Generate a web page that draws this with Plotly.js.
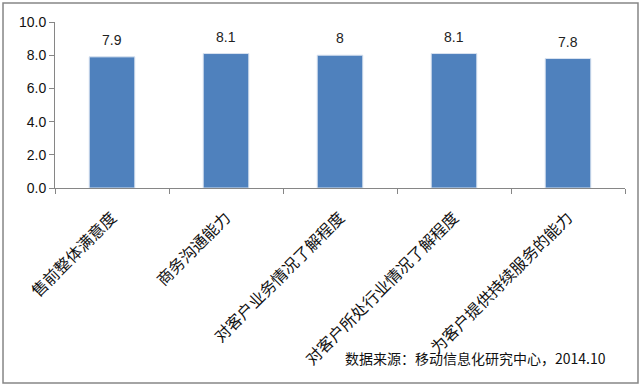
<!DOCTYPE html>
<html><head><meta charset="utf-8">
<script src="https://cdn.plot.ly/plotly-3.0.1.min.js"></script>
<style>html,body{margin:0;padding:0;background:#fff}#c{width:643px;height:386px}</style>
</head><body><div id="c"></div>
<script>
const categories = ["售前整体满意度","商务沟通能力","对客户业务情况了解程度","对客户所处行业情况了解程度","为客户提供持续服务的能力"];
const values = [7.9, 8.1, 8, 8.1, 7.8];
const valueLabels = ["7.9","8.1","8","8.1","7.8"];
const yTicks = [0, 2, 4, 6, 8, 10];
const sourceText = "数据来源：移动信息化研究中心，2014.10";

const trace = {
  type: "bar", x: categories, y: values,
  marker: {color: "#4F81BD", line: {color: "#D9E3F0", width: 1}},
  hoverinfo: "none"
};
const annotations = categories.map((c, i) => ({
  x: c, y: values[i], xref: "x", yref: "y", text: valueLabels[i],
  showarrow: false, yanchor: "bottom", yshift: 7,
  font: {family: "Liberation Sans, Arial, sans-serif", size: 14, color: "#222"}
}));
annotations.push({
  xref: "paper", yref: "paper", x: 0.970, y: -1.024, xanchor: "right", yanchor: "middle",
  text: sourceText, showarrow: false,
  font: {family: "Noto Sans CJK SC, sans-serif", size: 14, color: "#111"}
});
const layout = {
  width: 643, height: 386,
  margin: {l: 55, r: 18, t: 22, b: 198},
  paper_bgcolor: "#fff", plot_bgcolor: "#fff",
  bargap: 0.6, showlegend: false,
  xaxis: {
    type: "category", showline: true, linecolor: "#868686", linewidth: 1,
    ticks: "outside", tickson: "boundaries", ticklen: 5, tickcolor: "#868686",
    tickangle: -45, showgrid: false, zeroline: false, ticklabelstandoff: 13,
    tickfont: {family: "Noto Sans CJK SC, sans-serif", size: 16, color: "#111"}
  },
  yaxis: {
    range: [0, 10], tickvals: yTicks, tickformat: ".1f",
    showline: true, linecolor: "#868686", linewidth: 1,
    ticks: "outside", ticklen: 5, tickcolor: "#868686",
    showgrid: false, zeroline: false,
    tickfont: {family: "Liberation Sans, Arial, sans-serif", size: 14, color: "#111"}
  },
  annotations: annotations,
  shapes: [{
    type: "rect", xref: "paper", yref: "paper",
    x0: -0.0912, x1: 1.0228, y0: -1.1747, y1: 1.1145,
    line: {color: "#868686", width: 1.5}, fillcolor: "rgba(0,0,0,0)"
  }]
};
Plotly.newPlot("c", [trace], layout, {staticPlot: true, displayModeBar: false});
</script></body></html>
